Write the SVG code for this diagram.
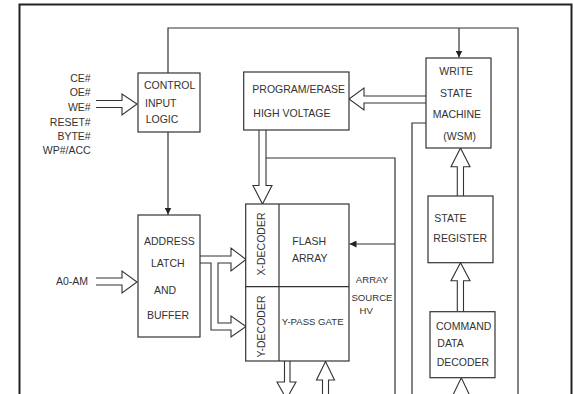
<svg xmlns="http://www.w3.org/2000/svg" width="573" height="394" viewBox="0 0 573 394">
<defs>
<style>
.b{fill:#fff;stroke:#333;stroke-width:1.2}
.l{fill:none;stroke:#333;stroke-width:1.2}
.h{fill:#fff;stroke:#333;stroke-width:1.1;stroke-linejoin:miter}
text{font-family:"Liberation Sans",Arial,Helvetica,sans-serif;font-size:10.5px;fill:#333}
.s{font-size:9.6px}
.r{text-anchor:end}
</style>
<marker id="ar" viewBox="0 0 10 10" refX="10" refY="5" markerWidth="7" markerHeight="7" markerUnits="userSpaceOnUse" orient="auto">
<path d="M0,0 L10,5 L0,10 z" fill="#222"/>
</marker>
</defs>
<rect width="573" height="394" fill="#fff"/>
<path d="M19.5,394 V4.5 H571.5 V394" fill="none" stroke="#222" stroke-width="2"/>

<g id="connectors">
<path class="l" d="M168,73 V28 H518 V394"/>
<path class="l" d="M459,28 V57.5" marker-end="url(#ar)"/>
<path class="l" d="M168,132 V214.5" marker-end="url(#ar)"/>
<path class="l" d="M426,123 H412 V394"/>
<path class="l" d="M266,158 H395 V394"/>
<path class="l" d="M395,244 H349.5" marker-end="url(#ar)"/>
<path class="h" d="M96,100.5 H122 V94 L137,104 L122,115 V107.5 H96"/>
<path class="h" d="M96,278 H122 V271 L137,282 L122,293 V285 H96"/>
<path class="h" d="M426,96 H364 V88 L349,99 L364,110 V103 H426"/>
<path class="h" d="M259,130 V185.5 H253 L262.5,204 L272,185.5 H266 V130"/>
<path class="h" d="M200,256 H231 V248 L246,259.5 L231,271 V263 H218 V323 H231 V316 L246,326.5 L231,337 V330 H211 V263 H200"/>
<path class="h" d="M457.3,196 V166.7 H451 L460.5,148 L470,166.7 H463.5 V196"/>
<path class="h" d="M457.3,311.7 V280.7 H451 L460.5,262.7 L470,280.7 H463.5 V311.7"/>
<path class="h" d="M452.5,396 L461.3,377.7 L470,396"/>
<path class="h" d="M284.5,361 V382 H277 L286.5,399 L296,382 H290 V361"/>
<path class="h" d="M322.5,400 V380 H316.5 L325.5,361.5 L334.5,380 H328.5 V400"/>
</g>

<g id="signals">
<text class="r" x="90.7" y="81.5">CE#</text>
<text class="r" x="90.7" y="96">OE#</text>
<text class="r" x="90.7" y="111">WE#</text>
<text class="r" x="90.7" y="126">RESET#</text>
<text class="r" x="90.7" y="140">BYTE#</text>
<text class="r" x="90.7" y="153.5">WP#/ACC</text>
<text class="r" x="88" y="285">A0-AM</text>
</g>

<g id="control">
<rect class="b" x="138" y="73" width="62" height="59"/>
<text x="144" y="89.3">CONTROL</text>
<text x="145" y="106.7">INPUT</text>
<text x="145.7" y="123.3">LOGIC</text>
</g>

<g id="address">
<rect class="b" x="138" y="215" width="62" height="122"/>
<text x="144" y="245">ADDRESS</text>
<text x="151" y="266.7">LATCH</text>
<text x="154" y="294">AND</text>
<text x="147" y="319">BUFFER</text>
</g>

<g id="program-erase">
<rect class="b" x="243.7" y="72" width="105.3" height="58"/>
<text x="252.3" y="92.7">PROGRAM/ERASE</text>
<text x="253.3" y="116.7">HIGH VOLTAGE</text>
</g>

<g id="wsm">
<rect class="b" x="426" y="58" width="65" height="90"/>
<text x="439.3" y="74.7">WRITE</text>
<text x="440" y="96.7">STATE</text>
<text x="432.7" y="118.3">MACHINE</text>
<text x="443.3" y="139.5">(WSM)</text>
</g>

<g id="state-register">
<rect class="b" x="428" y="196" width="65" height="66.7"/>
<text x="434.3" y="222.3">STATE</text>
<text x="433.3" y="242.3">REGISTER</text>
</g>

<g id="command-data-decoder">
<rect class="b" x="430" y="311.7" width="65" height="66"/>
<text x="436" y="330">COMMAND</text>
<text x="437.3" y="347.3">DATA</text>
<text x="436.7" y="365.7">DECODER</text>
</g>

<g id="array">
<rect class="b" x="245.7" y="204" width="103.3" height="157"/>
<path class="l" d="M279,204 V361 M245.7,286.7 H349"/>
<text text-anchor="middle" transform="translate(265.3,244) rotate(-90)">X-DECODER</text>
<text text-anchor="middle" transform="translate(265.3,326.5) rotate(-90)">Y-DECODER</text>
<text x="292.3" y="245">FLASH</text>
<text x="292" y="261.7">ARRAY</text>
<text class="s" text-anchor="middle" x="312.7" y="325">Y-PASS GATE</text>
</g>

<g id="array-source-hv">
<text class="s" text-anchor="middle" x="372" y="283.3">ARRAY</text>
<text class="s" text-anchor="middle" x="372" y="301">SOURCE</text>
<text class="s" text-anchor="middle" x="366.2" y="314.3">HV</text>
</g>
</svg>
